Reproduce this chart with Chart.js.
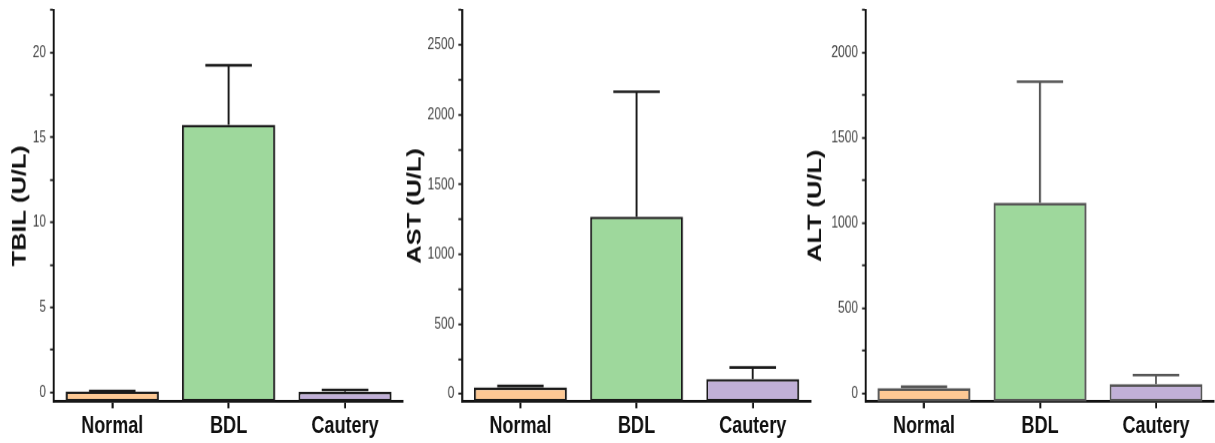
<!DOCTYPE html>
<html>
<head>
<meta charset="utf-8">
<script src="https://cdn.jsdelivr.net/npm/chart.js@4.4.1/dist/chart.umd.min.js"></script>
<style>
  body { margin: 0; background: #fff; }
  #wrap { position: relative; width: 1215px; height: 443px; overflow: hidden; }
  canvas { position: absolute; top: 0; }
</style>
</head>
<body>
<div id="wrap">
  <canvas id="tbil" width="410" height="333" style="left:0px;width:410px;height:443px"></canvas>
  <canvas id="ast" width="420" height="333" style="left:395px;width:420px;height:443px"></canvas>
  <canvas id="alt" width="415" height="333" style="left:800px;width:415px;height:443px"></canvas>
</div>
<script>
// data
const categories = ['Normal', 'BDL', 'Cautery'];
const barColors = ['#FDC894', '#9ED89C', '#C1B0D7'];

const tbilMean = [0.06, 15.75, 0.04];
const tbilErr = [0.02, 3.5, 0.1];
const tbilTicks = [0, 5, 10, 15, 20];

const astMean = [47, 1270, 107];
const astErr = [10, 895, 83];
const astTicks = [0, 500, 1000, 1500, 2000, 2500];

const altMean = [29, 1118, 53];
const altErr = [8, 711, 53];
const altTicks = [0, 500, 1000, 1500, 2000];

// the picture is stretched vertically, so draw short and let css stretch it
const SY = 1.33;

Chart.defaults.font.family = "'Liberation Sans', Arial, sans-serif";

// draws the +SD whiskers from the bar top
const errorBars = {
    id: 'errorBars',
    afterDatasetsDraw(chart, args, opts) {
        const ctx = chart.ctx;
        const xs = chart.scales.x, ys = chart.scales.y;
        const meta = chart.getDatasetMeta(0);
        ctx.save();
        ctx.strokeStyle = opts.color;
        ctx.lineWidth = 2;
        opts.means.forEach((m, i) => {
            const x = xs.getPixelForValue(i);
            const yBar = ys.getPixelForValue(m);
            const yTop = ys.getPixelForValue(m + opts.errs[i]);
            const half = meta.data[i].width / 4;
            ctx.beginPath();
            ctx.moveTo(x, yBar);
            ctx.lineTo(x, yTop);
            ctx.moveTo(x - half, yTop);
            ctx.lineTo(x + half, yTop);
            ctx.stroke();
        });
        ctx.restore();
    }
};

function makeChart(id, means, errs, majors, cfg) {
    // major ticks carry labels, a minor tick sits halfway after each one
    const half = (majors[1] - majors[0]) / 2;
    const tickVals = [];
    majors.forEach(v => { tickVals.push(v, v + half); });
    return new Chart(document.getElementById(id), {
        type: 'bar',
        data: {
            labels: categories,
            datasets: [{
                data: means,
                base: cfg.min,
                backgroundColor: barColors,
                borderColor: cfg.lineColor,
                borderWidth: 2,
                borderSkipped: false,
                categoryPercentage: 0.8,
                barPercentage: 1.0
            }]
        },
        options: {
            responsive: false,
            animation: false,
            devicePixelRatio: SY,
            layout: { padding: { top: 7.5, right: cfg.padRight, left: 0, bottom: 0 } },
            plugins: {
                legend: { display: false },
                tooltip: { enabled: false },
                errorBars: { means: means, errs: errs, color: cfg.lineColor }
            },
            scales: {
                x: {
                    afterFit: (s) => { s.height = 31.7; },
                    border: { color: '#111', width: 2 },
                    grid: { drawOnChartArea: false, offset: false, tickLength: 5, tickWidth: 2, tickColor: '#111' },
                    ticks: { color: '#111', padding: 3, font: { size: 18, weight: 'bold' } }
                },
                y: {
                    min: cfg.min,
                    max: cfg.max,
                    afterFit: (s) => {
                        s.width = cfg.axisW;
                        s.paddingTop = 0;
                        s.paddingBottom = 0;
                    },
                    afterBuildTicks: (s) => {
                        s.ticks = tickVals.filter(v => v <= cfg.max).map(v => ({ value: v }));
                    },
                    border: { color: '#111', width: 2 },
                    grid: { drawOnChartArea: false, tickLength: 4, tickWidth: 1.5, tickColor: '#222' },
                    ticks: {
                        autoSkip: false,
                        color: '#444',
                        padding: 4,
                        font: { size: 12 },
                        callback: (v) => majors.includes(v) ? String(v) : ''
                    },
                    title: {
                        display: true,
                        text: cfg.title,
                        color: '#111',
                        padding: { top: cfg.titlePad, bottom: 0 },
                        font: { size: 19, weight: 'bold' }
                    }
                }
            }
        },
        plugins: [errorBars]
    });
}

makeChart('tbil', tbilMean, tbilErr, tbilTicks, {
    min: -0.55, max: 22.5, title: 'TBIL (U/L)',
    axisW: 54, padRight: 7, titlePad: 8.6, lineColor: '#1a1a1a'
});
makeChart('ast', astMean, astErr, astTicks, {
    min: -55, max: 2750, title: 'AST (U/L)',
    axisW: 67.3, padRight: 4.7, titlePad: 8.6, lineColor: '#1a1a1a'
});
makeChart('alt', altMean, altErr, altTicks, {
    min: -50, max: 2250, title: 'ALT (U/L)',
    axisW: 66, padRight: 1, titlePad: 4.1, lineColor: '#555'
});
</script>
</body>
</html>
